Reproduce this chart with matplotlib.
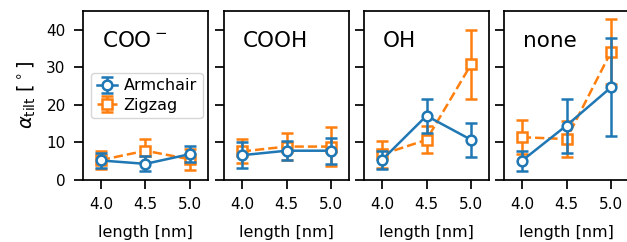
import matplotlib
matplotlib.use("Agg")
import matplotlib.pyplot as plt
import numpy as np

lengths = [4.0, 4.5, 5.0]
panel_titles = ["COO$^-$", "COOH", "OH", "none"]

armchair_mean = [
    [5.2, 4.3, 6.9],
    [6.6, 7.8, 7.8],
    [5.3, 17.1, 10.7],
    [5.1, 14.5, 24.7],
]
armchair_err = [
    [2.0, 2.0, 2.2],
    [3.5, 2.6, 3.5],
    [2.4, 4.6, 4.6],
    [2.7, 7.2, 13.0],
]
zigzag_mean = [
    [5.3, 7.8, 5.5],
    [7.6, 8.9, 8.9],
    [6.8, 10.7, 30.8],
    [11.4, 10.9, 34.2],
]
zigzag_err = [
    [2.5, 3.0, 2.8],
    [3.2, 3.5, 5.2],
    [3.5, 3.6, 9.2],
    [4.5, 4.8, 8.6],
]

blue = "#1f77b4"
orange = "#ff7f0e"

fig = plt.figure(figsize=(6.27, 2.42), dpi=100)
W, H = 627.0, 242.0
lefts = [83, 224, 364, 504]
axw = 125
top, bottom = 11, 180

axes = []
for i, lx in enumerate(lefts):
    ax = fig.add_axes([lx / W, 1 - bottom / H, axw / W, (bottom - top) / H])
    axes.append(ax)
    ax.errorbar(lengths, armchair_mean[i], yerr=armchair_err[i], color=blue,
                marker="o", markerfacecolor="white", markeredgewidth=1.8,
                markersize=7, linewidth=1.8, capsize=4, capthick=1.8,
                elinewidth=1.8, label="Armchair", zorder=3)
    ax.errorbar(lengths, zigzag_mean[i], yerr=zigzag_err[i], color=orange,
                marker="s", markerfacecolor="white", markeredgewidth=1.8,
                markersize=6.5, linewidth=1.8, linestyle="--", capsize=4,
                capthick=1.8, elinewidth=1.8, label="Zigzag", zorder=2)
    ax.set_xlim(3.8, 5.2)
    ax.set_ylim(0, 45)
    ax.set_xticks(lengths)
    ax.set_xticklabels(["4.0", "4.5", "5.0"])
    ax.set_yticks([0, 10, 20, 30, 40])
    ax.tick_params(axis="both", labelsize=11, length=6.5, width=1.25, pad=6)
    for s in ax.spines.values():
        s.set_linewidth(1.25)
    if i > 0:
        ax.set_yticklabels([])
    ax.set_xlabel("length [nm]", fontsize=11.5, labelpad=9)
    ax.text(0.15, 0.82, panel_titles[i], transform=ax.transAxes,
            fontsize=15.5, ha="left", va="center")

axes[0].set_ylabel(r"$\alpha_{\mathrm{tilt}}$ [$^\circ$]", fontsize=14, labelpad=6)
axes[0].legend(loc="center left", fontsize=11.5, handlelength=1.3,
               handletextpad=0.4, borderpad=0.35, labelspacing=0.3)

fig.savefig("out.png", dpi=100)
